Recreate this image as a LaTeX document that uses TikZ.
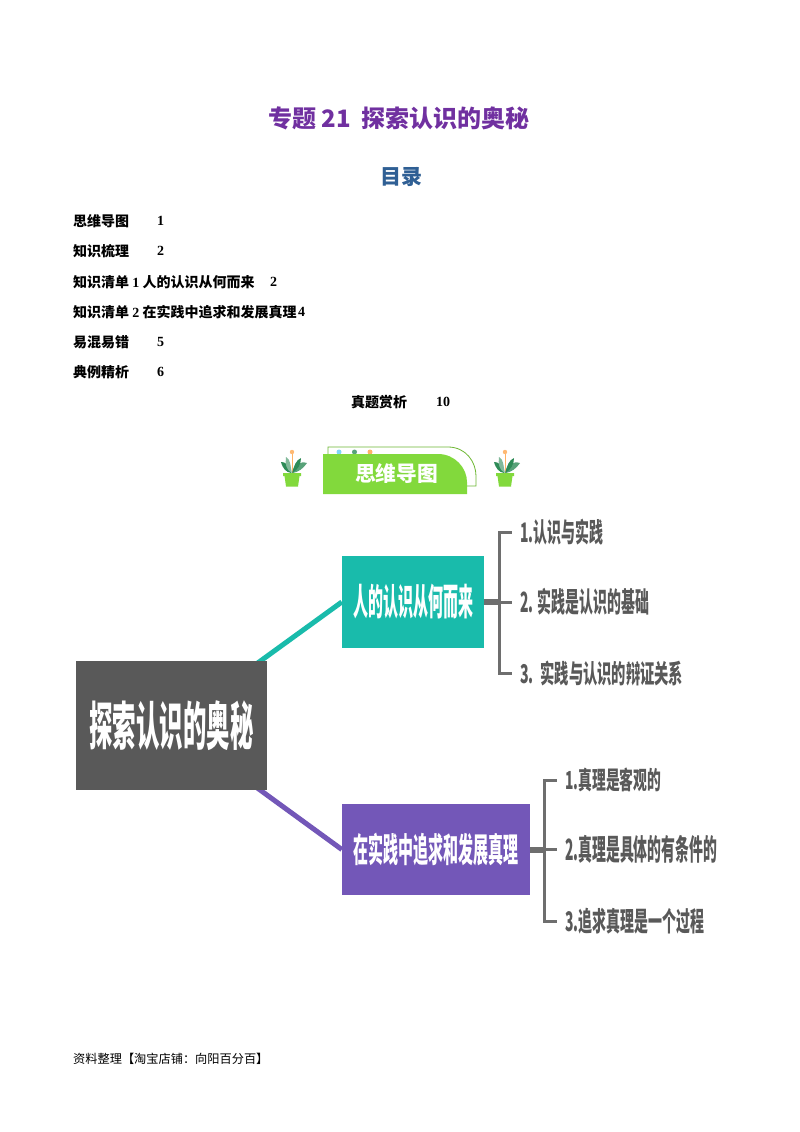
\documentclass[tikz,border=0pt]{standalone}
\usepackage{fontspec}
\usepackage{graphicx}
\usepackage{xcolor}
\setmainfont{Liberation Serif}
\newfontfamily\cjk{Noto Sans CJK SC}
\definecolor{titlepurple}{HTML}{7030A0}
\definecolor{tocblue}{HTML}{2F5F94}
\definecolor{rootgrey}{HTML}{595959}
\definecolor{tealbox}{HTML}{19BBAB}
\definecolor{purplebox}{HTML}{7357B8}
\definecolor{linegrey}{HTML}{6E6E6E}
\definecolor{bannergreen}{HTML}{82D93C}
\definecolor{leafdark}{HTML}{2E8B57}
\newcommand{\fitted}[3]{\resizebox*{#1pt}{#2pt}{\cjk #3}}
\newcommand{\tocsize}{\fontsize{14}{16}\selectfont}
\newcommand{\num}[1]{{\rmfamily\bfseries #1}}
\usetikzlibrary{arrows.meta,backgrounds}
\tikzset{
  tocline/.style={anchor=west, inner sep=0pt, font=\tocsize\cjk\bfseries},
  boxnode/.style={inner sep=0pt, text=white},
  leaflabel/.style={anchor=west, inner sep=0pt, text=rootgrey},
  twig/.style={draw=linegrey, line width=3pt, shorten >=8pt},
  plant/.pic={
    \draw[orange!60, line width=1pt] (0,0) -- (0,-20);
    \fill[orange!55] (0,-21) circle (2.2);
    \fill[leafdark] (-1,0) .. controls (-3,-9) and (-7,-11) .. (-11,-11) .. controls (-9,-4) and (-6,-1) .. (-1,0);
    \fill[leafdark!80] (1,0) .. controls (3,-9) and (8,-12) .. (15,-10) .. controls (11,-4) and (6,-1) .. (1,0);
    \fill[leafdark!60] (0,0) .. controls (-2,-8) and (-1,-13) .. (-6,-16) .. controls (-7,-9) and (-6,-3) .. (0,0);
    \fill[leafdark] (0,0) .. controls (2,-7) and (4,-13) .. (9,-15) .. controls (9,-9) and (6,-3) .. (0,0);
    \fill[bannergreen] (-9,0) -- (9,0) -- (9,3) -- (7.5,3) -- (6,13.5) -- (-6,13.5) -- (-7.5,3) -- (-9,3) -- cycle;
  }
}

\begin{document}
\begin{tikzpicture}[x=1pt, y=-1pt]
\useasboundingbox (0,0) rectangle (800,1132);

% heading
\node[inner sep=0pt, text=titlepurple, font=\fontsize{24}{28}\selectfont\cjk\bfseries] (title) at (399,118) {专题 21 \ 探索认识的奥秘};
\node[inner sep=0pt, text=tocblue, font=\fontsize{21}{25}\selectfont\cjk\bfseries] (contents) at (401,177) {目录};

% contents list
\foreach \t/\x/\p/\y [count=\s] in {思维导图/157/1/221, 知识梳理/157/2/251,
  {知识清单 \num{1} 人的认识从何而来}/270/2/282, {知识清单 \num{2} 在实践中追求和发展真理}/298/4/312,
  易混易错/157/5/342, 典例精析/157/6/372}
{
  \node[tocline] (toc\s) at (73,\y) {\t};
  \node[tocline] (page\s) at (\x,\y) {\num{\p}};
}
\node[tocline] (toc7) at (351,402) {真题赏析};
\node[tocline] (page7) at (436,402) {\num{10}};

% banner
\draw[bannergreen!85!black, line width=0.8pt] (328,454) -- (328,447) -- (448,447)
  .. controls (466,447) and (476,462) .. (476,476) -- (476,486) -- (467,486);
\fill[cyan!50] (339,452) circle (2.5);
\fill[leafdark!80] (354.5,452) circle (2.5);
\fill[orange!60] (370,452) circle (2.5);
\fill[bannergreen] (323,454) -- (438,454) .. controls (455,454) and (467,468) .. (467,482) -- (467,494) -- (323,494) -- cycle;
\node[boxnode] (banner) at (396.5,474) {\fitted{83}{20}{\bfseries 思维导图}};
\pic at (292,473) {plant};
\pic at (505,473) {plant};

% boxes
\node[boxnode, fill=rootgrey, minimum width=191pt, minimum height=129pt] (root) at (171.5,725.5) {\fitted{164}{50}{\bfseries 探索认识的奥秘}};
\node[boxnode, fill=tealbox, minimum width=142pt, minimum height=92pt] (origin) at (413,602) {\fitted{120}{35}{\bfseries 人的认识从何而来}};
\node[boxnode, fill=purplebox, minimum width=187.5pt, minimum height=91pt] (truth) at (435.8,849.5) {\fitted{165}{33}{\bfseries 在实践中追求和发展真理}};

% labels
\node[leaflabel] (origin1) at (520,532) {\fitted{83}{26}{\bfseries 1.认识与实践}};
\node[leaflabel] (origin2) at (520,602) {\fitted{129}{27}{\bfseries 2. 实践是认识的基础}};
\node[leaflabel] (origin3) at (520,673) {\fitted{163}{25}{\bfseries 3.\ \ 实践与认识的辩证关系}};
\node[leaflabel] (truth1) at (565,780) {\fitted{96}{24}{\bfseries 1.真理是客观的}};
\node[leaflabel] (truth2) at (565,849.5) {\fitted{152}{28}{\bfseries 2.真理是具体的有条件的}};
\node[leaflabel] (truth3) at (565,921) {\fitted{139}{26}{\bfseries 3.追求真理是一个过程}};

% connectors
\begin{pgfonlayer}{background}
  \fill[white] (0,0) rectangle (800,1132);
  \draw[tealbox, line width=5pt] (root.center) -- (origin.west);
  \draw[purplebox, line width=5pt] (root.center) -- (truth.west);
\end{pgfonlayer}
\coordinate (originjoint) at (499,602);
\coordinate (truthjoint) at (544,849.5);
\draw[linegrey, line width=6pt] (origin.east) -- (originjoint);
\draw[linegrey, line width=6pt] (truth.east) -- (truthjoint);
\foreach \s in {1,2,3}
{
  \draw[twig] (originjoint) |- (origin\s.west);
  \draw[twig] (truthjoint) |- (truth\s.west);
}

% footer
\node[inner sep=0pt, anchor=west, font=\fontsize{12.2}{14}\selectfont\cjk] (footer) at (73,1059) {资料整理【淘宝店铺：向阳百分百】};
\end{tikzpicture}
\end{document}
